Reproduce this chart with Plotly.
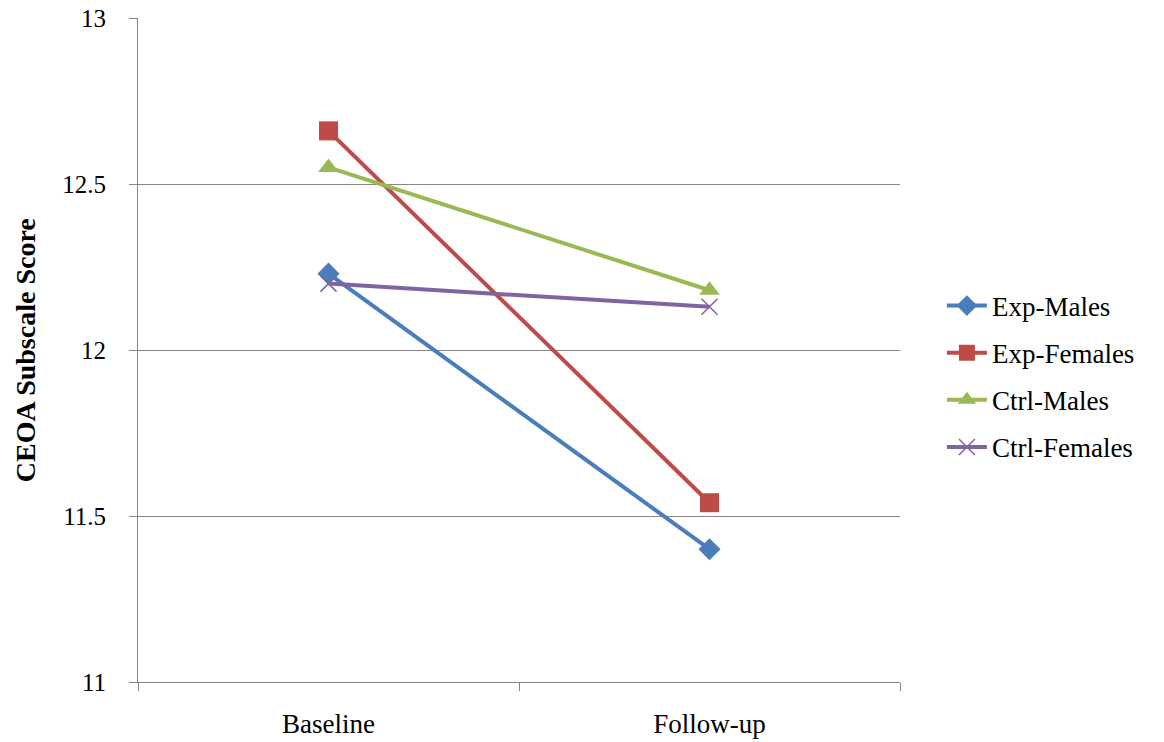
import plotly.graph_objects as go

# Time points on the x axis
time_points = ["Baseline", "Follow-up"]

# Mean CEOA subscale scores per group
exp_males = [12.23, 11.40]
exp_females = [12.66, 11.54]
ctrl_males = [12.55, 12.18]
ctrl_females = [12.20, 12.13]

# Y axis ticks
y_ticks = [11, 11.5, 12, 12.5, 13]
y_tick_labels = ["11", "11.5", "12", "12.5", "13"]

series = [
    ("Exp-Males", exp_males, "#4A7EBB", "diamond", 17, 0),
    ("Exp-Females", exp_females, "#BE4B48", "square", 19, 0),
    ("Ctrl-Males", ctrl_males, "#98B954", "triangle-up", 18, 0),
    ("Ctrl-Females", ctrl_females, "#8064A2", "x-thin", 16, 1.5),
]

FONT = "Times New Roman, Liberation Serif, DejaVu Serif, serif"

fig = go.Figure()
for name, vals, color, symbol, size, lw in series:
    marker = dict(symbol=symbol, size=size, color=color)
    if symbol == "x-thin":
        marker["line"] = dict(color=color, width=lw)
    fig.add_trace(go.Scatter(
        x=time_points, y=vals, name=name, mode="lines+markers",
        line=dict(color=color, width=4),
        marker=marker, legendgroup=name,
    ))

fig.update_layout(
    template="none",
    width=1164, height=742,
    margin=dict(l=138, r=264, t=18, b=60, autoexpand=False),
    paper_bgcolor="white", plot_bgcolor="white",
    font=dict(family=FONT, size=24, color="black"),
    showlegend=True,
    legend=dict(
        x=1.055, xanchor="left", y=0.46, yanchor="middle",
        font=dict(family=FONT, size=27, color="black"),
        tracegroupgap=9, itemwidth=40,
        bgcolor="rgba(0,0,0,0)",
    ),
    annotations=[dict(
        text="<b>CEOA Subscale Score</b>", textangle=-90,
        xref="paper", yref="paper", x=-0.148, y=0.5,
        xanchor="center", yanchor="middle", showarrow=False,
        font=dict(family=FONT, size=28, color="black"),
    )],
)

fig.update_xaxes(
    type="category", range=[-0.5, 1.5], tickson="boundaries",
    ticks="outside", ticklen=8, automargin=False,
    tickcolor="#868686", showline=True, linecolor="#868686", linewidth=1,
    showgrid=False, ticklabelstandoff=18,
    tickfont=dict(family=FONT, size=27, color="black"),
)
fig.update_yaxes(
    range=[11, 13], tickvals=y_ticks, ticktext=y_tick_labels,
    ticks="outside", ticklen=8, tickcolor="#868686", automargin=False,
    showline=True, linecolor="#868686", linewidth=1,
    showgrid=True, gridcolor="#868686", gridwidth=1, zeroline=False,
    ticklabelstandoff=18,
    tickfont=dict(family=FONT, size=25, color="black"),
)

fig.write_html("out.html")
